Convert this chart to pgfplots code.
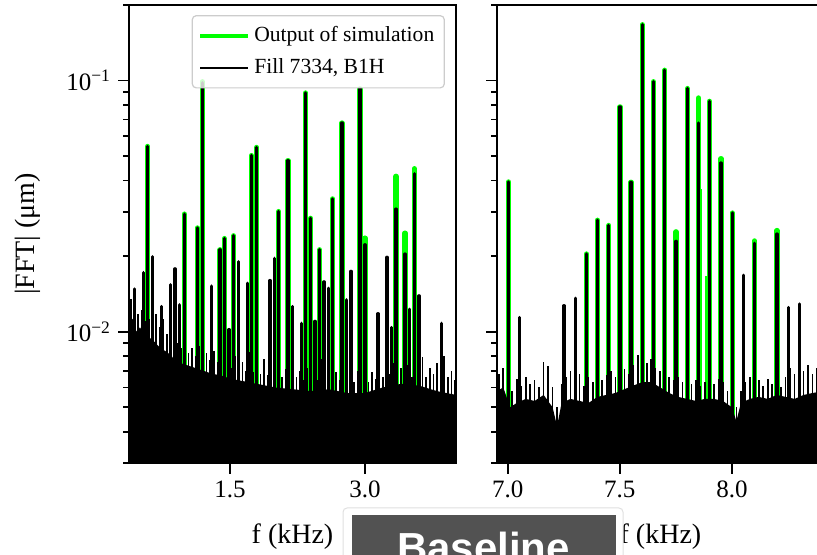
\documentclass[border=0pt]{standalone}
\usepackage{fontspec}
\setmainfont{Liberation Serif}
\newfontfamily\boxfont{Liberation Sans}
\usepackage{pgfplots}
\pgfplotsset{compat=1.18}
\definecolor{simgreen}{RGB}{0,255,0}
\definecolor{boxgray}{RGB}{82,82,82}

\begin{document}
\begin{tikzpicture}
% ---------------- left panel ----------------
\begin{axis}[
  at={(64.5pt,46pt)}, anchor=south west,
  scale only axis, width=163.5pt, height=229pt,
  ymode=log, ymin=0.003, ymax=0.2, log origin=infty,
  xmin=0.378, xmax=4.011,
  axis line style={line width=1pt},
  tick style={line width=0.9pt, black},
  major tick length=5.5pt, minor tick length=3pt,
  tick align=outside,
  xtick pos=bottom, ytick pos=left,
  ytick={0.01,0.1},
  minor ytick={0.003,0.004,0.005,0.006,0.007,0.008,0.009,0.02,0.03,0.04,0.05,0.06,0.07,0.08,0.09,0.2},
  yticklabels={10\textsuperscript{−2},10\textsuperscript{−1}},
  xtick={1.5,3.0}, xticklabels={1.5,3.0},
  tick label style={font=\fontsize{12.5}{14}\selectfont},
  xlabel={f (kHz)}, ylabel={|FFT| (μm)},
  xlabel style={at={(axis description cs:0.5,-0.1616)}, anchor=center, font=\fontsize{14}{16}\selectfont},
  ylabel style={at={(axis description cs:-0.309,0.5)}, anchor=center, rotate=0, font=\fontsize{14}{16}\selectfont},
  legend image code/.code={\draw[#1] (0pt,0pt) -- (24pt,0pt);},
  legend style={at={(0.966,0.978)}, anchor=north east, draw=black!20, line width=0.6pt,
    rounded corners=2pt, fill=white, fill opacity=0.8, text opacity=1, draw opacity=1,
    font=\fontsize{10.8}{13}\selectfont, inner xsep=3pt, inner ysep=3.5pt, row sep=3pt,
    cells={anchor=west}},
]
\addlegendimage{simgreen, line width=2pt}
\addlegendentry{Output of simulation}
\addlegendimage{black, line width=1.3pt}
\addlegendentry{Fill 7334, B1H}
% simulation peaks
\addplot[ycomb, simgreen, line width=2.6pt, line cap=round, forget plot] coordinates {
(0.585,0.0547) (0.992,0.0294) (1.137,0.0259) (1.192,0.099) (1.389,0.0212) (1.437,0.0235)
(1.541,0.0241) (1.737,0.0503) (1.796,0.0542) (2.041,0.0301) (2.144,0.048) (2.341,0.0893)
(2.396,0.0283) (2.496,0.0212) (2.641,0.0338) (2.744,0.0678) (2.944,0.0927) (3.000,0.0236)
(3.344,0.0416) (3.444,0.0247) (3.548,0.0446)};
% measured noise body
\addplot[fill=black, draw=none, forget plot] coordinates {
(0.378,0.002) (0.378,0.0115) (0.42,0.0112) (0.46,0.0100) (0.50,0.0104) (0.55,0.0098)
(0.60,0.0095) (0.65,0.0092) (0.70,0.0088) (0.75,0.0085) (0.80,0.0083) (0.85,0.0080)
(0.90,0.0076) (1.00,0.0074) (1.10,0.0072) (1.20,0.0070) (1.30,0.0068) (1.40,0.0067)
(1.50,0.0065) (1.60,0.0064) (1.70,0.0063) (1.80,0.0062) (1.90,0.0061) (2.00,0.0060)
(2.20,0.0059) (2.40,0.0058) (2.60,0.0059) (2.80,0.0057) (3.00,0.0057) (3.20,0.0060)
(3.40,0.0062) (3.60,0.0061) (3.80,0.0058) (4.011,0.0056) (4.011,0.002)};
% measured noise spikes
\addplot[ycomb, black, line width=0.8pt, forget plot] coordinates {
(0.40,0.0135) (0.44,0.0128) (0.48,0.0118) (0.52,0.0122) (0.56,0.0110) (0.60,0.0112)
(0.64,0.0106) (0.68,0.0118) (0.72,0.0104) (0.76,0.0112) (0.80,0.0098) (0.84,0.0094)
(0.88,0.0100) (0.92,0.0090) (0.96,0.0086) (1.00,0.0092) (1.04,0.0082) (1.08,0.0086)
(1.12,0.0080) (1.16,0.0088) (1.20,0.0078) (1.24,0.0082) (1.28,0.0077) (1.32,0.0084)
(1.36,0.0076) (1.40,0.0080) (1.44,0.0074) (1.48,0.0078) (1.52,0.0072) (1.56,0.0080)
(1.60,0.0071) (1.64,0.0076) (1.68,0.0070) (1.72,0.0083) (1.76,0.0069) (1.80,0.0074)
(1.84,0.0068) (1.88,0.0078) (1.92,0.0067) (1.96,0.0072) (2.00,0.0069) (2.04,0.0074)
(2.08,0.0066) (2.12,0.0071) (2.16,0.0065) (2.20,0.0076) (2.24,0.0066) (2.28,0.0070)
(2.32,0.0064) (2.36,0.0072) (2.40,0.0065) (2.44,0.0069) (2.48,0.0064) (2.52,0.0078)
(2.56,0.0066) (2.60,0.0070) (2.64,0.0063) (2.68,0.0069) (2.72,0.0064) (2.76,0.0072)
(2.80,0.0062) (2.84,0.0067) (2.88,0.0063) (2.92,0.0070) (2.96,0.0062) (3.00,0.0066)
(3.04,0.0063) (3.08,0.0069) (3.12,0.0065) (3.16,0.0074) (3.20,0.0066) (3.24,0.0071)
(3.28,0.0068) (3.32,0.0075) (3.36,0.0067) (3.40,0.0072) (3.44,0.0069) (3.48,0.0074)
(3.52,0.0066) (3.56,0.0071) (3.60,0.0068) (3.64,0.0079) (3.68,0.0066) (3.72,0.0072)
(3.76,0.0068) (3.80,0.0075) (3.84,0.0065) (3.88,0.0080) (3.92,0.0066) (3.96,0.0070)
(4.00,0.0064)};
% measured peaks
\addplot[ycomb, black, line width=1.6pt, line cap=round, forget plot] coordinates {
(0.437,0.0148) (0.535,0.0172) (0.585,0.0547) (0.637,0.0199) (0.741,0.0126) (0.841,0.0154)
(0.889,0.0178) (0.937,0.0128) (0.992,0.0294) (1.137,0.0259) (1.192,0.098) (1.292,0.0152)
(1.389,0.0212) (1.437,0.0235) (1.489,0.0102) (1.541,0.0241) (1.592,0.0190) (1.693,0.0156)
(1.737,0.0503) (1.796,0.0542) (1.944,0.0160) (1.993,0.0196) (2.041,0.0301) (2.144,0.048)
(2.196,0.0126) (2.296,0.0108) (2.341,0.0893) (2.396,0.0283) (2.444,0.0110) (2.496,0.0212)
(2.544,0.0158) (2.596,0.0149) (2.641,0.0338) (2.744,0.0678) (2.796,0.0134) (2.844,0.0174)
(2.944,0.0927) (3.000,0.0222) (3.144,0.0118) (3.244,0.0198) (3.297,0.0104) (3.344,0.0308)
(3.444,0.0204) (3.497,0.0123) (3.548,0.0426) (3.600,0.0139) (3.852,0.0108)};
\end{axis}
% ---------------- right panel ----------------
\begin{axis}[
  at={(248.5pt,46pt)}, anchor=south west,
  scale only axis, width=163.5pt, height=229pt,
  ymode=log, ymin=0.003, ymax=0.2, log origin=infty,
  xmin=6.952, xmax=8.411,
  axis line style={line width=1pt},
  tick style={line width=0.9pt, black},
  major tick length=5.5pt, minor tick length=3pt,
  tick align=outside,
  xtick pos=bottom, ytick pos=left,
  ytick={0.01,0.1},
  minor ytick={0.003,0.004,0.005,0.006,0.007,0.008,0.009,0.02,0.03,0.04,0.05,0.06,0.07,0.08,0.09,0.2},
  yticklabels={},
  xtick={7.0,7.5,8.0}, xticklabels={7.0,7.5,8.0},
  tick label style={font=\fontsize{12.5}{14}\selectfont},
  xlabel={f (kHz)},
  xlabel style={at={(axis description cs:0.5,-0.1616)}, anchor=center, font=\fontsize{14}{16}\selectfont},
]
\addplot[ycomb, simgreen, line width=2.6pt, line cap=round] coordinates {
(7.003,0.0395) (7.351,0.0204) (7.400,0.0278) (7.451,0.0265) (7.501,0.0786) (7.550,0.0394)
(7.600,0.167) (7.650,0.099) (7.701,0.110) (7.751,0.0250) (7.801,0.093) (7.851,0.0853)
(7.900,0.0827) (7.951,0.0489) (8.001,0.0297) (8.101,0.023) (8.201,0.0253)};
\addplot[ycomb, simgreen, line width=1pt] coordinates {(7.863,0.0371) (7.884,0.0166)};
\addplot[fill=black, draw=none] coordinates {
(6.952,0.002) (6.952,0.0058) (6.98,0.0060) (7.01,0.0050) (7.04,0.0052) (7.08,0.0054)
(7.12,0.0053) (7.16,0.0056) (7.20,0.0050) (7.22,0.0042) (7.24,0.0052) (7.28,0.0054)
(7.32,0.0053) (7.36,0.0052) (7.40,0.0055) (7.44,0.0056) (7.48,0.0057) (7.52,0.0059)
(7.56,0.0061) (7.60,0.0063) (7.64,0.0063) (7.68,0.0060) (7.72,0.0057) (7.76,0.0055)
(7.80,0.0054) (7.84,0.0053) (7.88,0.0054) (7.92,0.0054) (7.96,0.0053) (8.00,0.0050)
(8.02,0.0044) (8.04,0.0052) (8.08,0.0054) (8.12,0.0055) (8.16,0.0054) (8.20,0.0056)
(8.24,0.0055) (8.28,0.0054) (8.32,0.0056) (8.36,0.0057) (8.411,0.0058) (8.411,0.002)};
\addplot[ycomb, black, line width=0.8pt] coordinates {
(6.96,0.0068) (6.98,0.0072) (7.00,0.0060) (7.02,0.0058) (7.04,0.0065) (7.06,0.0061)
(7.08,0.0066) (7.10,0.0062) (7.12,0.0064) (7.14,0.0060) (7.16,0.0076) (7.18,0.0073)
(7.20,0.0060) (7.22,0.0050) (7.24,0.0062) (7.26,0.0066) (7.28,0.0070) (7.30,0.0064)
(7.32,0.0068) (7.34,0.0061) (7.36,0.0066) (7.38,0.0063) (7.40,0.0068) (7.42,0.0064)
(7.44,0.0067) (7.46,0.0070) (7.48,0.0066) (7.50,0.0069) (7.52,0.0071) (7.54,0.0068)
(7.56,0.0074) (7.58,0.0081) (7.60,0.0073) (7.62,0.0075) (7.64,0.0078) (7.66,0.0072)
(7.68,0.0070) (7.70,0.0068) (7.72,0.0066) (7.74,0.0064) (7.76,0.0066) (7.78,0.0063)
(7.80,0.0065) (7.82,0.0062) (7.84,0.0064) (7.86,0.0061) (7.88,0.0063) (7.90,0.0066)
(7.92,0.0062) (7.94,0.0065) (7.96,0.0063) (7.98,0.0058) (8.00,0.0060) (8.02,0.0050)
(8.04,0.0058) (8.06,0.0063) (8.08,0.0066) (8.10,0.0062) (8.12,0.0064) (8.14,0.0061)
(8.16,0.0065) (8.18,0.0062) (8.20,0.0064) (8.22,0.0060) (8.24,0.0066) (8.26,0.0072)
(8.28,0.0068) (8.30,0.0066) (8.32,0.0070) (8.34,0.0074) (8.36,0.0068) (8.38,0.0072)
(8.40,0.0069)};
\addplot[ycomb, black, line width=1.6pt, line cap=round] coordinates {
(7.003,0.0395) (7.052,0.0114) (7.251,0.0127) (7.302,0.0136) (7.351,0.0204) (7.400,0.0278)
(7.451,0.0265) (7.501,0.0786) (7.550,0.0394) (7.600,0.167) (7.650,0.099) (7.701,0.110)
(7.751,0.0229) (7.801,0.093) (7.851,0.0678) (7.900,0.0827) (7.951,0.047) (8.001,0.0297)
(8.052,0.0168) (8.101,0.0225) (8.201,0.0245) (8.253,0.0125) (8.303,0.0129)};
\end{axis}
% ---------------- overlay box ----------------
\draw[black!12, line width=0.5pt, fill=white, rounded corners=2pt] (171.5pt,-5pt) rectangle (311.5pt,23.5pt);
\fill[boxgray] (176pt,-5pt) rectangle (308pt,20pt);
\node[anchor=base, text=white, inner sep=0pt, font=\boxfont\bfseries\fontsize{21}{24}\selectfont] at (241.75pt,-4pt) {Baseline};
\pgfresetboundingbox
\useasboundingbox (0,0) rectangle (408.5pt,277.5pt);
\end{tikzpicture}
\end{document}
